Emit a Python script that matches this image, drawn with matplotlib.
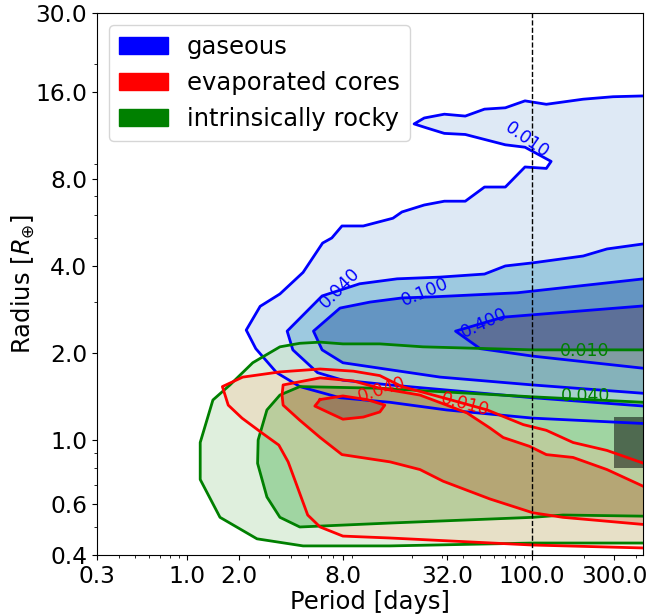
import numpy as np
import matplotlib
matplotlib.use("Agg")
import matplotlib.pyplot as plt
from matplotlib.path import Path
from matplotlib.patches import Patch, PathPatch
from matplotlib.ticker import FixedLocator, FormatStrFormatter, NullFormatter

# ── contour levels (density) ───────────────────────────────────────────────
GAS_LEVELS = [0.01, 0.04, 0.1, 0.4]
EVAP_LEVELS = [0.01, 0.04, 0.1]
ROCKY_LEVELS = [0.01, 0.04]

# gaseous planets: contour outlines (period [days], radius [R_earth])
GAS_P_010 = [445, 295, 198, 121, 91, 70, 53, 41, 31, 23.7, 20.7, 24.6, 31, 41, 70, 91, 129, 121, 91, 70,
             53, 41, 31, 23.7, 17.6, 15.6, 10.5, 7.9, 6.9, 6.1, 4.7, 3.45, 2.65, 2.2, 2.5, 3.3, 4.5, 7.7, 15, 32,
             101, 445]
GAS_R_010 = [15.5, 15.4, 15.1, 14.5, 14.9, 14.1, 13.95, 13.2, 13.4, 13.0, 12.4, 12.0, 11.5, 11.4, 10.5, 10.3,
             9.2, 8.7, 8.8, 7.5, 7.5, 6.7, 6.7, 6.5, 6.15, 5.85, 5.5, 5.5, 5.0, 4.8, 3.8, 3.2, 2.9, 2.4, 2.07,
             1.71, 1.53, 1.40, 1.35, 1.27, 1.19, 1.14]
GAS_P_040 = [445, 272, 198, 101, 70, 53, 29.3, 16.5, 10, 6.06, 3.8, 4.1, 5.7, 8.0, 15, 101, 445]
GAS_R_040 = [4.77, 4.58, 4.33, 4.1, 4.0, 3.75, 3.66, 3.61, 3.47, 3.15, 2.38, 2.05, 1.71, 1.61, 1.55, 1.40, 1.31]
GAS_P_100 = [445, 82, 27.6, 17.6, 11.5, 7.7, 5.4, 6.06, 8.0, 15, 29.3, 101, 445]
GAS_R_100 = [3.61, 3.23, 3.13, 3.10, 3.0, 2.86, 2.38, 2.05, 1.85, 1.75, 1.65, 1.55, 1.45]
GAS_P_400 = [445, 68, 36, 50, 101, 445]
GAS_R_400 = [2.91, 2.66, 2.38, 2.07, 1.95, 1.77]

# evaporated cores
EVAP_P_010 = [445, 272, 173, 121, 89, 55, 30.5, 17.6, 13.1, 9.2, 5.9, 3.45, 2.1, 1.6, 1.73, 2.08, 2.7, 3.4,
              3.85, 4.2, 5.0, 5.9, 8.0, 15, 101, 445]
EVAP_R_010 = [0.83, 0.92, 0.98, 1.08, 1.13, 1.27, 1.40, 1.53, 1.67, 1.73, 1.76, 1.72, 1.65, 1.53, 1.32, 1.19,
              1.06, 0.96, 0.84, 0.73, 0.55, 0.50, 0.465, 0.458, 0.433, 0.423]
EVAP_P_040 = [445, 272, 173, 121, 97, 68, 57, 42, 32, 22.4, 13.1, 9.2, 5.9, 3.6, 3.55, 3.6, 4.5, 5.9, 7.9, 15,
              22.4, 30.5, 57, 101, 151, 445]
EVAP_R_040 = [0.69, 0.79, 0.87, 0.89, 0.95, 1.02, 1.10, 1.24, 1.32, 1.43, 1.51, 1.60, 1.64, 1.55, 1.43, 1.32,
              1.17, 1.02, 0.89, 0.84, 0.79, 0.72, 0.625, 0.56, 0.54, 0.51]
EVAP_P_100 = [5.9, 8.0, 11, 14, 13.1, 10.5, 8.0, 6.5, 5.5, 5.9]
EVAP_R_100 = [1.38, 1.42, 1.38, 1.32, 1.25, 1.20, 1.18, 1.25, 1.31, 1.38]

# intrinsically rocky
ROCKY_P_010 = [445, 101, 23.3, 13.1, 8.0, 5.9, 4.5, 3.45, 2.4, 1.77, 1.41, 1.19, 1.19, 1.55, 2.54, 4.7, 15,
               101, 445]
ROCKY_R_010 = [2.05, 2.05, 2.10, 2.15, 2.15, 2.18, 2.16, 2.10, 1.85, 1.55, 1.375, 0.98, 0.73, 0.54, 0.455,
               0.43, 0.43, 0.44, 0.44]
ROCKY_P_040 = [445, 101, 13.1, 4.5, 3.45, 2.9, 2.58, 2.56, 2.9, 3.45, 4.5, 15, 101, 151, 445]
ROCKY_R_040 = [1.35, 1.41, 1.51, 1.53, 1.43, 1.27, 1.0, 0.83, 0.635, 0.54, 0.50, 0.516, 0.54, 0.55, 0.545]

# shaded box
BOX_PERIOD = [300, 445]
BOX_RADIUS = [0.8, 1.2]

X_TICKS = [0.3, 1.0, 2.0, 8.0, 32.0, 100.0, 300.0]
Y_TICKS = [0.4, 0.6, 1.0, 2.0, 4.0, 8.0, 16.0, 30.0]

LEGEND_LABELS = ['gaseous', 'evaporated cores', 'intrinsically rocky']

FS = 17.5


def ring(p, r):
    return np.column_stack([p, r]).astype(float)


def signed_area(v):
    lv = np.log10(v)
    x, y = lv[:, 0], lv[:, 1]
    return 0.5 * np.sum(x * np.roll(y, -1) - np.roll(x, -1) * y)


def band_patch(outer, inner, color, alpha, zorder):
    """Area inside `outer` but outside `inner` (inner may be None)."""
    rings = [outer]
    if inner is not None:
        if np.sign(signed_area(inner)) == np.sign(signed_area(outer)):
            inner = inner[::-1]
        rings.append(inner)
    verts, codes = [], []
    for rg in rings:
        verts.extend(rg.tolist() + [rg[0].tolist()])
        codes.extend([Path.MOVETO] + [Path.LINETO] * (len(rg) - 1) + [Path.CLOSEPOLY])
    return PathPatch(Path(verts, codes), facecolor=color, alpha=alpha,
                     edgecolor='none', zorder=zorder)


def draw_population(ax, contours, fills, alphas, line_color, zorder):
    for k, (col, a) in enumerate(zip(fills, alphas)):
        inner = contours[k + 1] if k + 1 < len(contours) else None
        ax.add_patch(band_patch(contours[k], inner, col, a, zorder))
    for c in contours:
        ax.plot(c[:, 0], c[:, 1], color=line_color, lw=2, zorder=6)


fig = plt.figure(figsize=(6.52, 6.14), dpi=100)
ax = fig.add_axes([0.1488, 0.0961, 0.8374, 0.8827])
ax.set_xscale('log')
ax.set_yscale('log')

gas = [ring(GAS_P_010, GAS_R_010), ring(GAS_P_040, GAS_R_040),
       ring(GAS_P_100, GAS_R_100), ring(GAS_P_400, GAS_R_400)]
evap = [ring(EVAP_P_010, EVAP_R_010), ring(EVAP_P_040, EVAP_R_040), ring(EVAP_P_100, EVAP_R_100)]
rocky = [ring(ROCKY_P_010, ROCKY_R_010), ring(ROCKY_P_040, ROCKY_R_040)]

draw_population(ax, gas, ['#d0e1f2', '#74b3d4', '#2269a9', '#18346c'], [0.7] * 4, 'blue', 1)
draw_population(ax, rocky, ['#b5dbb0', '#61b964'], [0.42, 0.6], 'green', 2)
draw_population(ax, evap, ['#fbbc92', '#df4f21', '#931810'], [0.29, 0.35, 0.45], 'red', 3)

ax.fill_between(BOX_PERIOD, BOX_RADIUS[0], BOX_RADIUS[1], color='black', alpha=0.5,
                lw=0, zorder=4)
ax.axvline(100, color='black', ls='--', lw=1, zorder=7)

# contour labels
lab_kw = dict(fontsize=12.5, ha='center', va='center', zorder=8)
ax.text(94, 10.9, '%.3f' % GAS_LEVELS[0], color='blue', rotation=-35, **lab_kw)
ax.text(7.7, 3.36, '%.3f' % GAS_LEVELS[1], color='blue', rotation=45, **lab_kw)
ax.text(24, 3.25, '%.3f' % GAS_LEVELS[2], color='blue', rotation=22, **lab_kw)
ax.text(53, 2.54, '%.3f' % GAS_LEVELS[3], color='blue', rotation=25, **lab_kw)
ax.text(13.5, 1.49, '%.3f' % EVAP_LEVELS[1], color='red', rotation=18, **lab_kw)
ax.text(41, 1.33, '%.3f' % EVAP_LEVELS[0], color='red', rotation=-15, **lab_kw)
ax.text(203, 2.03, '%.3f' % ROCKY_LEVELS[0], color='green', rotation=0, **lab_kw)
ax.text(203, 1.42, '%.3f' % ROCKY_LEVELS[1], color='green', rotation=0, **lab_kw)

ax.set_xlim(0.3, 440)
ax.set_ylim(0.4, 30)
ax.xaxis.set_major_locator(FixedLocator(X_TICKS))
ax.xaxis.set_major_formatter(FormatStrFormatter('%.1f'))
ax.xaxis.set_minor_formatter(NullFormatter())
ax.yaxis.set_major_locator(FixedLocator(Y_TICKS))
ax.yaxis.set_major_formatter(FormatStrFormatter('%.1f'))
ax.yaxis.set_minor_formatter(NullFormatter())
ax.tick_params(labelsize=16.8)

ax.set_xlabel('Period [days]', fontsize=FS, labelpad=2)
ax.set_ylabel(r'Radius [$R_{\oplus}$]', fontsize=FS, labelpad=-1)

handles = [Patch(color=c) for c in ['blue', 'red', 'green']]
ax.legend(handles, LEGEND_LABELS, loc='upper left', fontsize=FS, handlelength=2.0)

fig.savefig('out.png', dpi=100)
